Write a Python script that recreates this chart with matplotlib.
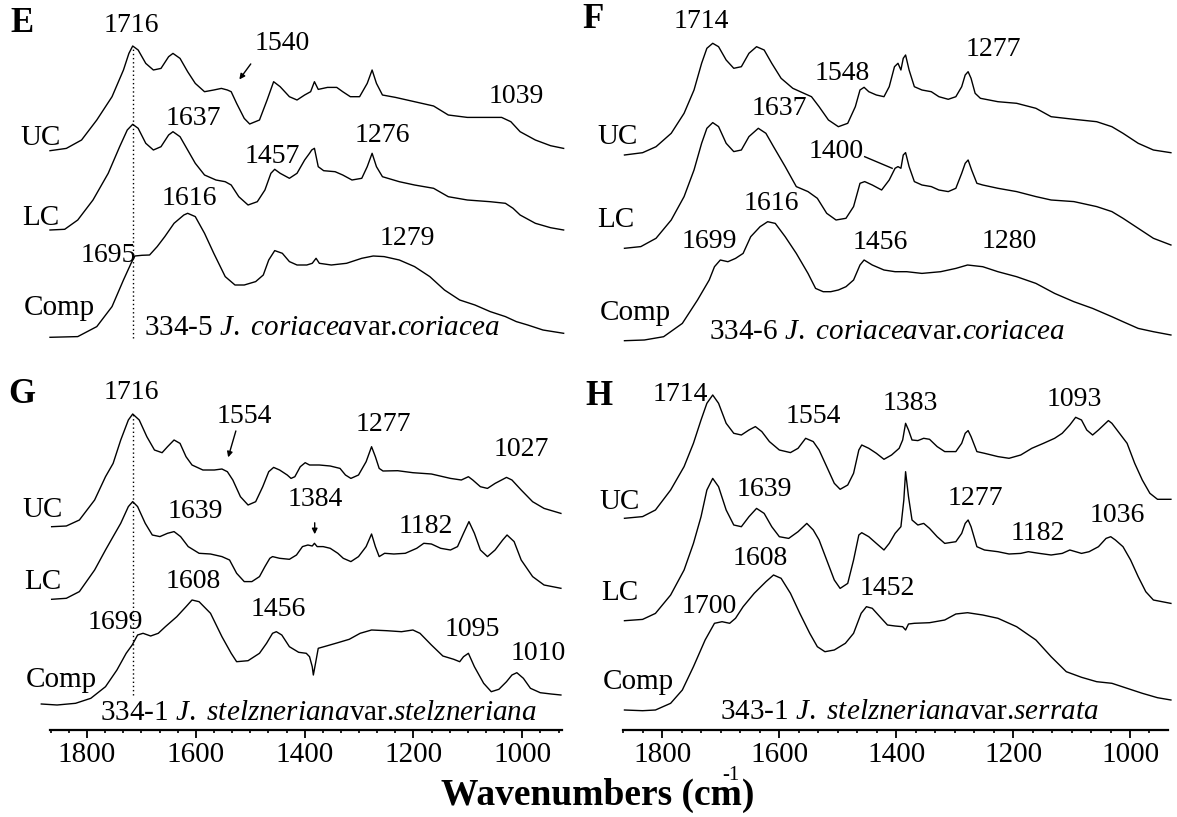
import numpy as np
import matplotlib
matplotlib.use("Agg")
import matplotlib.pyplot as plt
from matplotlib.ticker import MultipleLocator, AutoMinorLocator

plt.rcParams['font.family'] = ['Liberation Serif', 'DejaVu Serif']
plt.rcParams['mathtext.fontset'] = 'custom'
plt.rcParams['mathtext.rm'] = 'Liberation Serif'
plt.rcParams['mathtext.it'] = 'Liberation Serif:italic'

# ---------------- data (wavenumber, relative absorbance) ----------------
# Panel E : 334-5 J. coriacea var. coriacea
E_UC_wn = [1868,1838,1810,1782,1754,1733,1723,1716,1706,1692,1678,1664,1650,1642,1629,1615,1601,1584,1567,1553,1542,1535,1525,1511,1501,1483,1469,1457,1445,1428,1414,1400,1389,1382,1375,1358,1341,1330,1316,1299,1285,1276,1268,1257,1233,1198,1163,1136,1101,1073,1038,1021,1004,976,948,924]
E_UC_ab = [0,.023,.107,.307,.54,.807,.973,1.047,1.007,.873,.807,.823,.94,.973,.923,.79,.673,.59,.607,.623,.607,.59,.473,.323,.267,.307,.507,.69,.64,.54,.507,.557,.59,.69,.613,.633,.633,.59,.54,.54,.673,.807,.673,.557,.533,.49,.447,.357,.333,.333,.333,.29,.19,.107,.05,.023]
E_LC_wn = [1868,1841,1817,1789,1761,1740,1726,1716,1706,1692,1678,1664,1650,1642,1629,1615,1601,1584,1563,1546,1535,1521,1504,1487,1473,1462,1455,1445,1428,1414,1400,1391,1387,1382,1375,1365,1344,1330,1313,1295,1285,1276,1268,1257,1226,1198,1163,1136,1101,1059,1031,1017,1004,976,948,924]
E_LC_ab = [0,.007,.1,.3,.567,.833,1.0,1.057,1.017,.867,.8,.833,.95,.983,.933,.8,.667,.55,.5,.483,.45,.333,.25,.283,.4,.567,.607,.567,.517,.567,.7,.767,.8,.817,.633,.593,.583,.55,.5,.517,.633,.767,.633,.533,.483,.45,.417,.333,.3,.283,.267,.217,.15,.067,.023,0]
E_CP_wn = [1868,1817,1782,1754,1733,1719,1712,1699,1685,1671,1657,1640,1622,1615,1601,1584,1567,1546,1528,1511,1490,1476,1466,1455,1441,1428,1414,1396,1386,1379,1373,1351,1323,1295,1274,1254,1226,1198,1170,1143,1115,1087,1059,1031,1011,990,962,924]
E_CP_ab = [0,.007,.107,.307,.573,.74,.813,.82,.823,.907,1.007,1.14,1.223,1.24,1.207,1.04,.84,.607,.523,.523,.557,.623,.773,.867,.84,.757,.723,.723,.74,.79,.74,.723,.74,.79,.813,.807,.773,.707,.607,.473,.373,.323,.257,.207,.157,.123,.073,.04]

# Panel F : 334-6 J. coriacea var. coriacea
F_UC_wn = [1865,1834,1811,1785,1763,1746,1733,1724,1714,1704,1691,1678,1665,1652,1639,1626,1613,1597,1577,1558,1545,1532,1516,1499,1483,1470,1462,1455,1447,1434,1421,1412,1403,1397,1392,1388,1384,1378,1369,1356,1340,1327,1311,1298,1288,1282,1277,1272,1265,1256,1226,1194,1161,1135,1096,1057,1031,1012,986,960,930]
F_UC_ab = [0,.023,.083,.217,.417,.65,.917,1.067,1.117,1.083,.95,.867,.883,1.017,1.083,1.05,.917,.767,.667,.617,.583,.483,.35,.283,.317,.483,.65,.677,.633,.6,.583,.683,.883,.917,.85,.967,1.0,.85,.683,.65,.633,.583,.557,.583,.683,.8,.833,.767,.617,.567,.533,.517,.467,.383,.357,.333,.283,.217,.117,.05,.023]
F_LC_wn = [1865,1837,1811,1785,1763,1746,1733,1724,1714,1704,1691,1678,1665,1652,1636,1623,1610,1590,1571,1551,1535,1519,1503,1486,1473,1462,1454,1441,1425,1412,1402,1397,1392,1388,1384,1378,1369,1356,1340,1327,1311,1298,1288,1282,1277,1271,1262,1252,1226,1194,1161,1135,1096,1057,1031,1012,986,960,930]
F_LC_ab = [0,.017,.1,.283,.517,.783,1.05,1.2,1.257,1.217,1.05,.967,.983,1.117,1.2,1.15,1.017,.817,.617,.567,.5,.35,.283,.3,.417,.65,.667,.633,.583,.683,.8,.817,.8,.933,.957,.817,.667,.633,.617,.583,.567,.6,.75,.85,.883,.783,.65,.633,.6,.567,.517,.483,.467,.417,.367,.3,.2,.1,.033]
F_CP_wn = [1865,1831,1798,1766,1740,1720,1711,1701,1688,1675,1662,1649,1633,1620,1607,1590,1571,1551,1538,1525,1512,1499,1486,1473,1462,1455,1441,1421,1402,1382,1356,1324,1298,1278,1252,1226,1194,1161,1129,1096,1064,1031,1012,986,960,930]
F_CP_ab = [0,.007,.04,.173,.407,.607,.74,.807,.79,.823,.873,1.04,1.14,1.19,1.173,1.04,.873,.673,.523,.49,.49,.507,.54,.607,.757,.807,.757,.707,.69,.69,.673,.69,.723,.757,.74,.69,.64,.573,.473,.39,.323,.24,.19,.123,.09,.057]

# Panel G : 334-1 J. stelzneriana var. stelzneriana
G_UC_wn = [1865,1838,1814,1786,1766,1752,1738,1724,1716,1704,1690,1676,1662,1652,1640,1629,1618,1607,1587,1566,1552,1542,1532,1518,1504,1490,1477,1466,1457,1446,1432,1425,1418,1408,1399,1391,1373,1353,1335,1325,1315,1301,1287,1277,1270,1263,1256,1229,1201,1167,1132,1112,1099,1091,1077,1064,1050,1029,1019,1002,981,960,929]
G_UC_ab = [0,.007,.067,.267,.5,.633,.867,1.067,1.127,1.067,.9,.767,.74,.8,.867,.833,.7,.617,.567,.567,.577,.55,.467,.3,.217,.25,.4,.55,.593,.567,.517,.483,.5,.6,.64,.617,.617,.607,.583,.517,.483,.517,.65,.8,.7,.583,.557,.56,.54,.527,.483,.467,.5,.467,.4,.383,.433,.493,.467,.367,.25,.183,.133]
G_LC_wn = [1865,1838,1814,1786,1766,1752,1738,1724,1716,1707,1693,1680,1666,1652,1640,1628,1614,1594,1573,1552,1538,1525,1511,1497,1483,1473,1464,1459,1446,1428,1415,1404,1394,1386,1382,1377,1366,1353,1339,1329,1315,1301,1287,1277,1270,1263,1253,1236,1215,1194,1181,1167,1150,1132,1119,1108,1098,1088,1077,1064,1050,1036,1028,1015,1002,981,960,929]
G_LC_ab = [0,.01,.077,.293,.493,.627,.76,.927,.977,.927,.76,.643,.627,.66,.677,.627,.527,.46,.453,.427,.393,.26,.177,.177,.227,.327,.41,.427,.41,.4,.443,.527,.543,.533,.56,.527,.527,.51,.46,.41,.377,.427,.527,.653,.527,.427,.46,.453,.46,.51,.56,.553,.51,.493,.527,.66,.777,.66,.493,.427,.493,.593,.643,.577,.393,.227,.143,.11]
G_CP_wn = [1884,1855,1821,1793,1766,1745,1728,1717,1707,1697,1683,1669,1656,1635,1618,1607,1594,1573,1552,1535,1525,1504,1483,1470,1459,1452,1442,1428,1411,1397,1391,1386,1384,1380,1375,1360,1339,1318,1298,1277,1249,1222,1201,1188,1167,1146,1126,1115,1108,1099,1088,1071,1057,1043,1029,1019,1010,998,985,967,947,929]
G_CP_ab = [0,-.01,.007,.057,.173,.34,.507,.59,.69,.707,.68,.707,.773,.873,.973,1.04,1.023,.907,.673,.507,.423,.433,.507,.607,.707,.723,.69,.573,.517,.507,.473,.373,.29,.407,.557,.58,.613,.647,.707,.74,.733,.723,.74,.707,.59,.48,.447,.423,.473,.507,.373,.207,.123,.147,.223,.29,.313,.257,.157,.113,.1,.09]

# Panel H : 343-1 J. stelzneriana var. serrata
H_UC_wn = [1865,1834,1812,1786,1763,1747,1734,1724,1714,1704,1691,1678,1665,1652,1641,1630,1617,1600,1581,1568,1555,1542,1532,1519,1506,1496,1483,1473,1464,1459,1447,1434,1421,1408,1395,1389,1384,1379,1373,1363,1353,1343,1330,1317,1298,1288,1282,1277,1272,1262,1249,1226,1207,1187,1168,1148,1129,1116,1103,1093,1083,1074,1064,1054,1037,1031,1018,1005,992,979,966,953,930]
H_UC_ab = [0,.017,.083,.283,.517,.75,.983,1.15,1.233,1.15,.95,.85,.833,.883,.917,.867,.767,.683,.657,.7,.8,.767,.683,.517,.35,.29,.333,.45,.683,.733,.7,.65,.59,.633,.7,.783,.95,.883,.783,.777,.8,.79,.717,.667,.667,.75,.85,.877,.817,.667,.65,.617,.6,.633,.7,.75,.8,.85,.933,1.01,.983,.883,.833,.883,.977,.95,.85,.75,.55,.383,.25,.19,.19]
H_LC_wn = [1865,1834,1812,1786,1763,1747,1734,1724,1714,1704,1691,1678,1665,1652,1639,1626,1613,1600,1584,1568,1553,1542,1532,1519,1506,1496,1483,1473,1464,1459,1447,1434,1421,1412,1402,1392,1387,1384,1379,1373,1363,1353,1343,1330,1317,1298,1288,1282,1277,1272,1262,1249,1226,1207,1187,1174,1155,1135,1116,1103,1093,1083,1070,1054,1041,1033,1025,1012,999,986,973,960,930]
H_LC_ab = [0,.013,.073,.257,.507,.773,1.04,1.307,1.423,1.34,1.107,.957,.94,1.04,1.123,1.073,.94,.84,.823,.89,.973,.907,.807,.607,.407,.323,.373,.607,.857,.88,.84,.773,.707,.773,.873,.94,1.207,1.49,1.24,1.007,.957,.973,.923,.84,.773,.79,.873,.973,1.007,.94,.74,.707,.69,.667,.673,.69,.673,.657,.673,.707,.69,.673,.69,.74,.823,.84,.807,.74,.607,.44,.29,.207,.173]
H_CP_wn = [1865,1834,1812,1786,1766,1747,1727,1711,1698,1685,1675,1662,1643,1623,1610,1597,1581,1565,1548,1535,1522,1506,1487,1473,1460,1451,1441,1428,1415,1402,1389,1384,1379,1369,1343,1317,1298,1278,1252,1226,1194,1161,1135,1109,1083,1057,1031,1005,979,953,930]
H_CP_ab = [0,-.007,0,.067,.2,.433,.7,.867,.883,.867,.917,1.033,1.167,1.283,1.35,1.317,1.167,.967,.767,.633,.583,.6,.667,.767,.967,1.033,1.017,.933,.85,.84,.833,.8,.86,.867,.873,.9,.96,.973,.95,.917,.833,.7,.533,.383,.327,.283,.267,.217,.167,.123,.1]

trace_names = ['UC', 'LC', 'Comp']
tick_values = [1800, 1600, 1400, 1200, 1000]

# ---------------- layout ----------------
W, Hpx = 1177, 817
fig = plt.figure(figsize=(W / 100, Hpx / 100), dpi=100)


def px_axes(x0, y0, x1, y1):
    return fig.add_axes([x0 / W, 1 - y1 / Hpx, (x1 - x0) / W, (y1 - y0) / Hpx])


NUM_FS = 20
LAB_FS = 21


def panel(ax, traces, offsets, xlim, ylim, axis_on):
    for (wn, ab), off in zip(traces, offsets):
        ax.plot(wn, np.asarray(ab) + off, color='black', lw=1.0, clip_on=False,
                solid_joinstyle='round')
    ax.set_xlim(*xlim)
    ax.set_ylim(*ylim)
    ax.patch.set_alpha(0)
    for s in ['left', 'right', 'top']:
        ax.spines[s].set_visible(False)
    ax.set_yticks([])
    if axis_on:
        ax.spines['bottom'].set_linewidth(1.6)
        ax.xaxis.set_major_locator(MultipleLocator(200))
        ax.xaxis.set_minor_locator(AutoMinorLocator(6))
        ax.set_xticks(tick_values)
        ax.set_xticklabels([str(t) for t in tick_values])
        ax.tick_params(axis='x', which='major', direction='out', length=5.5, width=1.3,
                       labelsize=21, pad=3)
        ax.tick_params(axis='x', which='minor', direction='out', length=2.5, width=1.2)
    else:
        ax.spines['bottom'].set_visible(False)
        ax.set_xticks([])


def texts(ax, items):
    for t, x, y in items:
        fs = LAB_FS if t in trace_names else NUM_FS
        ax.text(x, y, t, fontsize=fs, ha='center', va='center')


def species(ax, x, y, code, genus_sp, var):
    ax.text(x, y, r'%s $\mathit{J.\ %s}$var.$\mathit{%s}$' % (code, genus_sp, var),
            fontsize=21, ha='left', va='center')


def letter(ax, x, y, s):
    ax.text(x, y, s, fontsize=25, fontweight='bold', ha='center', va='center')


LEFT_X = (1868, 927)
RIGHT_X = (1867, 935)

# ---- E ----
axE = px_axes(50, 0, 562, 410)
panel(axE, [(E_UC_wn, E_UC_ab), (E_LC_wn, E_LC_ab), (E_CP_wn, E_CP_ab)],
      [2.593, 1.8, 0.727], LEFT_X, (0, 4.1), False)
axE.plot([1716, 1716], [0.717, 3.63], color='black', lw=1.0, ls=(0, (1, 2)), clip_on=False)
texts(axE, [('1716', 1719, 3.85), ('1540', 1441, 3.667), ('1039', 1011, 3.133),
            ('UC', 1885, 2.717), ('1637', 1605, 2.917), ('1457', 1459, 2.533),
            ('1276', 1257, 2.75), ('LC', 1885, 1.917), ('1616', 1612, 2.117),
            ('1695', 1761, 1.55), ('1279', 1212, 1.717), ('Comp', 1851, 1.017)])
axE.annotate('', xy=(1523, 3.283), xytext=(1496, 3.483),
             arrowprops=dict(arrowstyle='-|>', color='black', lw=1.0, mutation_scale=8))
species(axE, 1695, 0.817, '334-5', 'coriacea', 'coriacea')
letter(axE, 1920, 3.865, 'E')

# ---- F ----
axF = px_axes(623.3, 0, 1168, 410)
panel(axF, [(F_UC_wn, F_UC_ab), (F_LC_wn, F_LC_ab), (F_CP_wn, F_CP_ab)],
      [2.55, 1.617, 0.693], RIGHT_X, (0, 4.1), False)
texts(axF, [('1714', 1733, 3.883), ('1277', 1233, 3.6), ('1548', 1493, 3.367),
            ('UC', 1876, 2.733), ('1637', 1600, 3.017), ('1400', 1503, 2.583),
            ('LC', 1880, 1.9), ('1616', 1613, 2.067), ('1699', 1720, 1.683),
            ('1456', 1428, 1.673), ('1280', 1207, 1.683), ('Comp', 1847, 0.967)])
axF.plot([1454, 1407], [2.533, 2.417], color='black', lw=1.0)
species(axF, 1720, 0.783, '334-6', 'coriacea', 'coriacea')
letter(axF, 1919, 3.9, 'F')

# ---- G ----
axG = px_axes(50, 380, 562, 730)
panel(axG, [(G_UC_wn, G_UC_ab), (G_LC_wn, G_LC_ab), (G_CP_wn, G_CP_ab)],
      [2.033, 1.307, 0.26], LEFT_X, (0, 3.5), True)
axG.plot([1716, 1716], [0.35, 3.16], color='black', lw=1.0, ls=(0, (1, 2)), clip_on=False)
texts(axG, [('1716', 1719, 3.37), ('1554', 1511, 3.133), ('1277', 1256, 3.05),
            ('1027', 1002, 2.8), ('UC', 1881, 2.2), ('1639', 1600, 2.183),
            ('1384', 1380, 2.3), ('1182', 1177, 2.033), ('LC', 1881, 1.483),
            ('1608', 1604, 1.483), ('1699', 1748, 1.073), ('1456', 1449, 1.2),
            ('1095', 1091, 1.0), ('1010', 971, 0.767), ('Comp', 1848, 0.5)])
axG.annotate('', xy=(1542, 2.7), xytext=(1525, 3.017),
             arrowprops=dict(arrowstyle='-|>', color='black', lw=1.0, mutation_scale=8))
axG.annotate('', xy=(1381.5, 1.93), xytext=(1381.5, 2.1),
             arrowprops=dict(arrowstyle='-|>', color='black', lw=1.0, mutation_scale=8))
species(axG, 1776, 0.167, '334-1', 'stelzneriana', 'stelzneriana')
letter(axG, 1920, 3.35, 'G')

# ---- H ----
axH = px_axes(623.3, 380, 1168, 730)
panel(axH, [(H_UC_wn, H_UC_ab), (H_LC_wn, H_LC_ab), (H_CP_wn, H_CP_ab)],
      [2.117, 1.093, 0.2], RIGHT_X, (0, 3.5), True)
texts(axH, [('1714', 1769, 3.35), ('1383', 1376, 3.267), ('1093', 1096, 3.3),
            ('1554', 1542, 3.133), ('UC', 1873, 2.283), ('1639', 1626, 2.4),
            ('1277', 1265, 2.317), ('1182', 1158, 1.967), ('1036', 1021, 2.15),
            ('LC', 1873, 1.367), ('1608', 1633, 1.717), ('1452', 1415, 1.417),
            ('1700', 1720, 1.233), ('Comp', 1841, 0.483)])
species(axH, 1701, 0.183, '343-1', 'stelzneriana', 'serrata')
letter(axH, 1909, 3.33, 'H')

# ---- common x label ----
fig.text(598 / W, 1 - 795 / Hpx, 'Wavenumbers (cm)', fontsize=27, fontweight='bold',
         ha='center', va='center')
fig.text(731 / W, 1 - 775 / Hpx, '-1', fontsize=15, ha='center', va='center')

fig.savefig('out.png', dpi=100)
